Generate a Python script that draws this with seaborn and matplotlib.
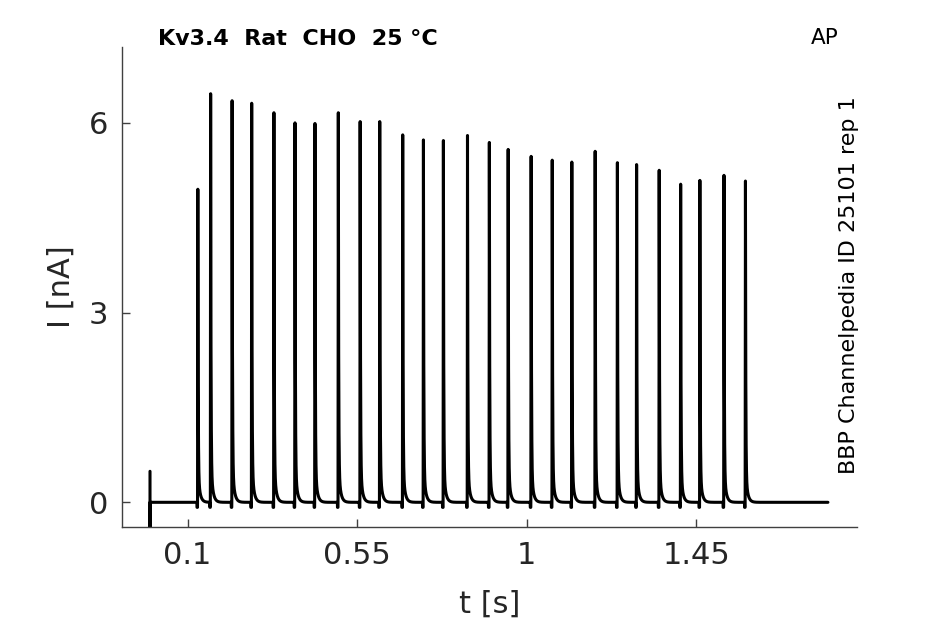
import numpy as np
import pandas as pd
import matplotlib
matplotlib.use("Agg")
import matplotlib.pyplot as plt
import seaborn as sns

# ---- data ----
spike_times = [0.127, 0.161, 0.218, 0.270, 0.329, 0.385, 0.438, 0.500, 0.558,
               0.610, 0.671, 0.726, 0.779, 0.843, 0.901, 0.951, 1.012, 1.068,
               1.120, 1.182, 1.241, 1.292, 1.352, 1.409, 1.460, 1.524, 1.581]
spike_peaks = [4.95, 6.46, 6.35, 6.31, 6.16, 6.00, 5.99, 6.16, 6.02,
               6.02, 5.81, 5.73, 5.72, 5.80, 5.69, 5.58, 5.47, 5.41,
               5.38, 5.55, 5.37, 5.34, 5.25, 5.03, 5.09, 5.17, 5.08]
artifact_time = 0.0
artifact_high = 0.49
artifact_low = -0.6
trace_end = 1.80
x_ticks = [0.1, 0.55, 1, 1.45]
x_tick_labels = ["0.1", "0.55", "1", "1.45"]
y_ticks = [0, 3, 6]
y_tick_labels = ["0", "3", "6"]

# ---- build the recorded trace from spike events ----
dt = 0.0001
t = np.arange(0.0, trace_end + dt / 2, dt)
I = np.zeros_like(t)
for ts, amp in zip(spike_times, spike_peaks):
    s = t - ts
    rise = (s >= -0.0008) & (s < 0)
    I[rise] += amp * (s[rise] + 0.0008) / 0.0008
    dec = s >= 0
    I[dec] += amp * (0.9 * np.exp(-s[dec] / 0.0009) + 0.1 * np.exp(-s[dec] / 0.005))
    dip = (s >= -0.0025) & (s < -0.0008)
    I[dip] += -0.08
# capacitive artifact at t = 0
art_t = np.array([artifact_time, artifact_time, artifact_time])
art_I = np.array([artifact_high, artifact_low, 0.0])
t_all = np.concatenate([art_t, t])
I_all = np.concatenate([art_I, I])
df = pd.DataFrame({"t": t_all, "I": I_all})

sns.set_theme(style="ticks")
plt.rcParams['font.family'] = ['DejaVu Sans']

fig = plt.figure(figsize=(9.45, 6.24), dpi=100)
ax = fig.add_axes([0.1294, 0.1559, 0.7772, 0.7688])
sns.lineplot(data=df, x="t", y="I", ax=ax, color="black", linewidth=2.2,
             estimator=None, sort=False)

ax.set_xlim(-0.0736, 1.8765)
ax.set_ylim(-0.386, 7.20)
ax.set_xticks(x_ticks)
ax.set_xticklabels(x_tick_labels)
ax.set_yticks(y_ticks)
ax.set_yticklabels(y_tick_labels)
ax.tick_params(direction="in", length=6, width=1, colors="#404040",
               labelsize=22, labelcolor="#262626", pad=10)
for side in ["top", "right"]:
    ax.spines[side].set_visible(False)
for side in ["left", "bottom"]:
    ax.spines[side].set_color("#404040")
    ax.spines[side].set_linewidth(1)

ax.set_xlabel("t [s]", fontsize=22, color="#262626")
ax.set_ylabel("I [nA]", fontsize=22, color="#262626")
ax.xaxis.set_label_coords(0.5, -0.132)
ax.yaxis.set_label_coords(-0.064, 0.5)

fig.text(158 / 945, 1 - 39 / 624, "Kv3.4  Rat  CHO  25 °C", fontsize=16,
         fontweight="bold", color="black", ha="left", va="center")
fig.text(825 / 945, 1 - 38 / 624, "AP", fontsize=15.5, color="black",
         ha="center", va="center")
fig.text(849 / 945, 1 - 285 / 624, "BBP Channelpedia ID 25101 rep 1",
         fontsize=16, color="black", rotation=90, ha="center", va="center")

fig.savefig("out.png", dpi=100)
